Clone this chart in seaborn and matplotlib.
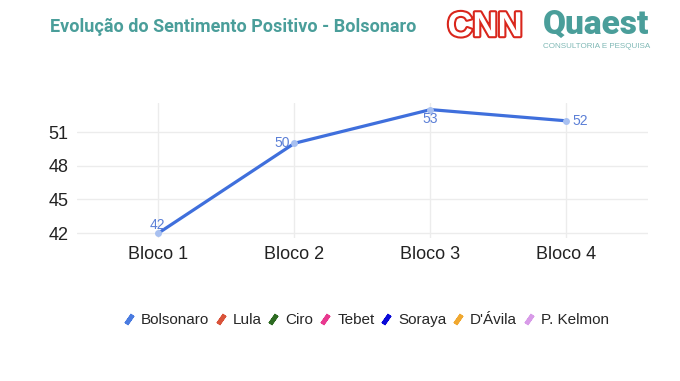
import matplotlib
matplotlib.use('Agg')
import matplotlib.pyplot as plt
import seaborn as sns
import pandas as pd
from matplotlib.lines import Line2D
import matplotlib.patheffects as pe

# 数据
blocos = ['Bloco 1', 'Bloco 2', 'Bloco 3', 'Bloco 4']
bolsonaro = [42, 50, 53, 52]
yticks = [42, 45, 48, 51]
candidatos = ['Bolsonaro', 'Lula', 'Ciro', 'Tebet', 'Soraya', "D'Ávila", 'P. Kelmon']
cores = ['#4a7be0', '#d9533a', '#2d6b22', '#e8398f', '#0a0ad8', '#f0a830', '#d89be8']

df = pd.DataFrame({'Bloco': blocos, 'Valor': bolsonaro})
df['pos'] = range(len(blocos))

sns.set_theme(style='whitegrid')
plt.rcParams['font.family'] = ['Liberation Sans', 'DejaVu Sans']

fig = plt.figure(figsize=(6.8, 3.81), dpi=100)
ax = fig.add_axes([0.113, 0.375, 0.84, 0.355])

sns.lineplot(data=df, x='pos', y='Valor', color='#3f6fdc', linewidth=2.3, ax=ax,
             marker='o', markersize=5, markerfacecolor='#a8c0f0', markeredgewidth=0)

# 数据标签
offsets = [((-1, 1), 'center', 'bottom'), ((-3, 0), 'right', 'center'),
           ((0, -2), 'center', 'top'), ((4, 0), 'left', 'center')]
for i, v in enumerate(bolsonaro):
    (dx, dy), ha, va = offsets[i]
    ax.annotate(f'{v}', (i, v), xytext=(dx, dy), textcoords='offset points',
                ha=ha, va=va, fontsize=10, color='#5b7fd6')

ax.set_xlim(-0.6, 3.6)
ax.set_ylim(41.55, 53.6)
ax.set_xticks(range(len(blocos)))
ax.set_xticklabels(blocos)
ax.set_yticks(yticks)
ax.tick_params(axis='both', labelsize=13, colors='#222222', length=0, pad=6)
ax.set_xlabel('')
ax.set_ylabel('')
ax.grid(True, color='#ececec', linewidth=1.0)
for s in ax.spines.values():
    s.set_visible(False)

# 图例
handles = [Line2D([], [], linestyle='none', marker=(2, 2, -35), markersize=8,
                  markeredgewidth=3.2, color=c) for c in cores]
fig.legend(handles, candidatos, loc='center', bbox_to_anchor=(0.539, 0.16), ncol=7,
           frameon=False, fontsize=11, handlelength=0.6, handletextpad=0.5,
           columnspacing=0.45)

# 标题和标志
fig.text(0.074, 0.93, 'Evolução do Sentimento Positivo - Bolsonaro', fontsize=13,
         fontweight='bold', color='#4a9e9a', va='center', family=['Roboto', 'DejaVu Sans'])
fig.text(0.658, 0.93, 'CNN', fontsize=25, fontweight='bold', color='white', va='center',
         family=['Liberation Sans Narrow', 'Liberation Sans'],
         path_effects=[pe.withStroke(linewidth=3, foreground='#d9261c')])
fig.text(0.798, 0.935, 'Quaest', fontsize=24, fontweight='heavy', color='#4a9e9a',
         va='center', family=['Roboto', 'DejaVu Sans'])
fig.text(0.798, 0.877, 'CONSULTORIA E PESQUISA', fontsize=5.8, color='#7fb8b5',
         va='center')

plt.savefig('out.png', dpi=100)
